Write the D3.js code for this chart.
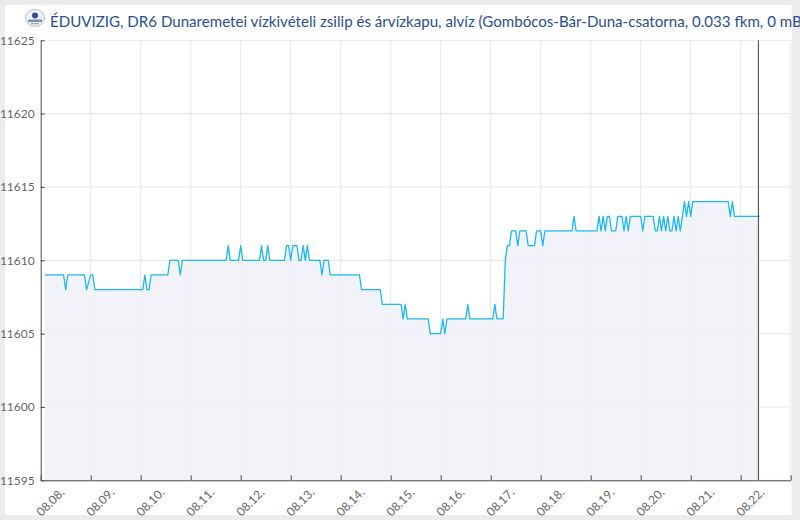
<!DOCTYPE html>
<html>
<head>
<meta charset="utf-8">
<script src="https://cdn.jsdelivr.net/npm/d3@7"></script>
<style>
  html, body { margin: 0; padding: 0; background: #ececec; }
  svg { display: block; }
</style>
</head>
<body>
<svg id="chart" width="800" height="520"></svg>
<script>
// hours counted from 08.08. 00:00, with the water level (cm) read at that hour
const hours = [
  2, 11, 12, 13, 21, 22, 24, 25, 26, 49, 50, 51, 52, 53, 61, 62, 66, 67, 68,
  89, 90, 91, 95, 96, 97, 105, 106, 107, 108, 109, 110,
  117, 118, 119, 120, 121, 123, 124, 125, 126, 127, 128, 129,
  134, 135, 136, 138, 139, 153, 154, 163, 164, 173, 174, 175, 176,
  186, 187, 192, 193, 194, 195, 204, 205, 206, 217, 218, 219,
  222, 223, 224, 225, 226, 228, 229, 230, 233, 234, 237, 238, 240, 241, 242,
  255, 256, 257, 267, 268, 269, 270, 271, 272, 273, 274, 276, 277, 279,
  280, 281, 282, 283, 288, 289, 290, 294, 295, 296, 297, 298, 299, 300,
  301, 302, 303, 304, 305, 306, 307, 308, 309, 310, 311, 312, 313,
  330, 331, 332, 333, 345
];
const levels = [
  11609, 11609, 11608, 11609, 11609, 11608, 11609, 11609, 11608, 11608, 11609, 11608, 11608, 11609, 11609, 11610, 11610, 11609, 11610,
  11610, 11611, 11610, 11610, 11611, 11610, 11610, 11611, 11610, 11610, 11611, 11610,
  11610, 11611, 11611, 11610, 11611, 11611, 11610, 11610, 11611, 11610, 11611, 11610,
  11610, 11609, 11610, 11610, 11609, 11609, 11608, 11608, 11607, 11607, 11606, 11607, 11606,
  11606, 11605, 11605, 11606, 11605, 11606, 11606, 11607, 11606, 11606, 11607, 11606,
  11606, 11610, 11611, 11611, 11612, 11612, 11611, 11612, 11612, 11611, 11611, 11612, 11612, 11611, 11612,
  11612, 11613, 11612, 11612, 11613, 11612, 11613, 11612, 11613, 11613, 11612, 11612, 11613, 11613,
  11612, 11613, 11612, 11613, 11613, 11612, 11613, 11613, 11612, 11612, 11613, 11612, 11613, 11612,
  11613, 11612, 11612, 11613, 11612, 11613, 11612, 11613, 11614, 11613, 11614, 11613, 11614,
  11614, 11613, 11614, 11613, 11613
];
const yTicks = [11595, 11600, 11605, 11610, 11615, 11620, 11625];
const startDay = new Date(2024, 7, 8);
const endDay = new Date(2024, 7, 23);
const nowTime = new Date(2024, 7, 22, 8, 30);
const titleText = "ÉDUVIZIG, DR6 Dunaremetei vízkivételi zsilip és árvízkapu, alvíz (Gombócos-Bár-Duna-csatorna, 0.033 fkm, 0 mBf)";

const margin = { left: 40.7, right: 9.3, top: 40.3, bottom: 39.7 };
const width = 800, height = 520;

const data = hours.map((h, i) => ({ t: d3.timeHour.offset(startDay, h), v: levels[i] }));

const svg = d3.select("#chart");

// white panel
svg.append("rect")
  .attr("x", 5).attr("y", 5)
  .attr("width", 786.7).attr("height", 510)
  .attr("fill", "#fff");

const x = d3.scaleTime()
  .domain([startDay, endDay])
  .range([margin.left, width - margin.right]);

const y = d3.scaleLinear()
  .domain([11595, 11625])
  .range([height - margin.bottom, margin.top]);

const days = d3.timeDay.range(startDay, d3.timeDay.offset(endDay, 1));

// grid
svg.append("g")
  .selectAll("line")
  .data(yTicks)
  .join("line")
  .attr("x1", margin.left).attr("x2", width - margin.right)
  .attr("y1", (d) => y(d)).attr("y2", (d) => y(d))
  .attr("stroke", "#e6e6e6");

svg.append("g")
  .selectAll("line")
  .data(days.slice(1))
  .join("line")
  .attr("x1", (d) => x(d)).attr("x2", (d) => x(d))
  .attr("y1", margin.top).attr("y2", height - margin.bottom)
  .attr("stroke", "#e6e6e6");

// area + line
const area = d3.area()
  .x((d) => x(d.t))
  .y0(y(11595))
  .y1((d) => y(d.v));

const line = d3.line()
  .x((d) => x(d.t))
  .y((d) => y(d.v));

svg.append("path")
  .datum(data)
  .attr("d", area)
  .attr("fill", "#eef0f6")
  .attr("fill-opacity", 0.8);

svg.append("path")
  .datum(data)
  .attr("d", line)
  .attr("fill", "none")
  .attr("stroke", "#1cb9ee")
  .attr("stroke-width", 1.3)
  .attr("stroke-linejoin", "round");

// now line
svg.append("line")
  .attr("x1", x(nowTime)).attr("x2", x(nowTime))
  .attr("y1", margin.top).attr("y2", height - margin.bottom)
  .attr("stroke", "#444")
  .attr("stroke-width", 1);

// axes
const fmt = d3.timeFormat("%m.%d.");

const xAxis = svg.append("g")
  .attr("transform", `translate(0,${height - margin.bottom})`)
  .call(d3.axisBottom(x)
    .tickValues(days)
    .tickSize(-5)
    .tickSizeOuter(0)
    .tickFormat((d) => (d < endDay ? fmt(d) : "")));

xAxis.selectAll("text")
  .attr("x", null).attr("y", null).attr("dy", null)
  .attr("text-anchor", "end")
  .attr("transform", "translate(24,13) rotate(-45)")
  .attr("font-family", "Lato, 'Open Sans', sans-serif")
  .attr("font-size", 12)
  .attr("fill", "#666");

const yAxis = svg.append("g")
  .attr("transform", `translate(${margin.left},0)`)
  .call(d3.axisLeft(y)
    .tickValues(yTicks)
    .tickSize(-4)
    .tickSizeOuter(0)
    .tickPadding(6)
    .tickFormat(d3.format("d")));

yAxis.selectAll("text")
  .attr("font-family", "Lato, 'Open Sans', sans-serif")
  .attr("font-size", 12)
  .attr("fill", "#666");

svg.selectAll(".domain, .tick line")
  .attr("stroke", "#4a4a4a");

// logo
const logo = svg.append("g").attr("transform", "translate(35,18)");
logo.append("ellipse")
  .attr("rx", 9.5).attr("ry", 8.5)
  .attr("fill", "#eef1f5")
  .attr("stroke", "#aab4c2")
  .attr("stroke-width", 0.8);
logo.append("circle")
  .attr("cy", -2.5).attr("r", 3)
  .attr("fill", "#2d4f8e");
logo.append("rect")
  .attr("x", -7).attr("y", 1.5)
  .attr("width", 14).attr("height", 2.6)
  .attr("fill", "#7f90ab");
logo.append("rect")
  .attr("x", -4).attr("y", 5)
  .attr("width", 8).attr("height", 1.2)
  .attr("fill", "#9aa6b8");

// title
svg.append("text")
  .attr("x", 50).attr("y", 26.5)
  .attr("font-family", "Lato, 'Open Sans', sans-serif")
  .attr("font-size", 15.1)
  .attr("fill", "#294f8f")
  .text(titleText);
</script>
</body>
</html>
